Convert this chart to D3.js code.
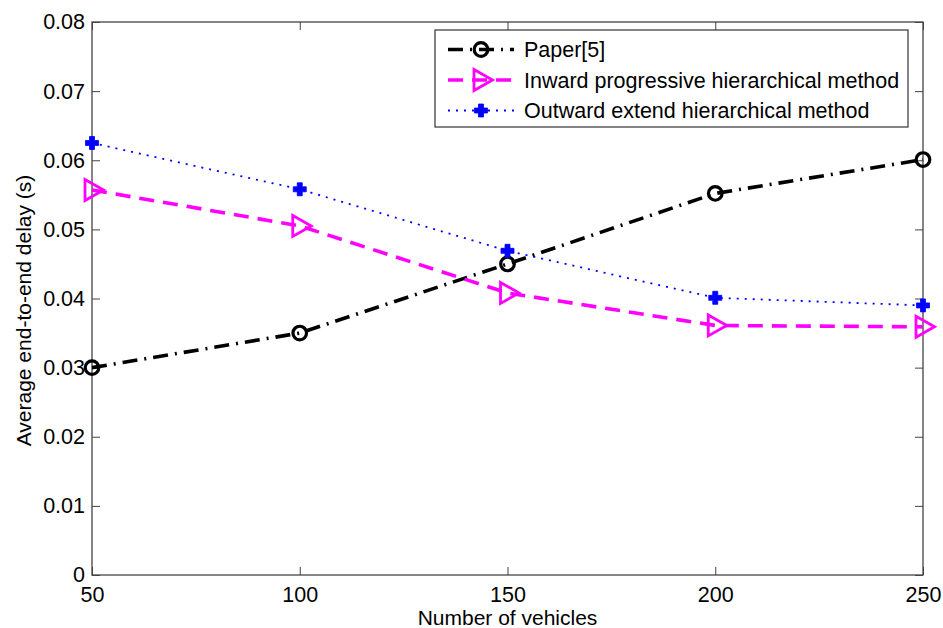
<!DOCTYPE html>
<html>
<head>
<meta charset="utf-8">
<script src="https://cdn.jsdelivr.net/npm/d3@7"></script>
<style>
  body { margin: 0; background: #fff; }
  text { font-family: "Liberation Sans", Arial, sans-serif; fill: #000; }
</style>
</head>
<body>
<svg id="chart" width="943" height="628"></svg>
<script>
const vehicles = [50, 100, 150, 200, 250];
const paper5 = [0.030, 0.035, 0.045, 0.0552, 0.0601];
const inward = [0.0557, 0.0505, 0.0408, 0.0361, 0.0359];
const outward = [0.0625, 0.0558, 0.0469, 0.0401, 0.0390];
const yTicks = [0, 0.01, 0.02, 0.03, 0.04, 0.05, 0.06, 0.07, 0.08];
const xTicks = [50, 100, 150, 200, 250];

const seriesList = [
  { name: 'Paper[5]', values: paper5, color: '#000', width: 3.6, dash: '15,7,2,7', marker: 'circle' },
  { name: 'Inward progressive hierarchical method', values: inward, color: '#ff00ff', width: 3.6, dash: '15,9', marker: 'triangle' },
  { name: 'Outward extend hierarchical method', values: outward, color: '#0000ff', width: 1.8, dash: '2,6', marker: 'plus' }
];

const svg = d3.select('#chart');
const plotL = 92, plotR = 923, plotT = 22, plotB = 575;
const fontFamily = '"Liberation Sans", Arial, sans-serif';
const tickFont = 21.5;

const x = d3.scaleLinear().domain([50, 250]).range([plotL, plotR]);
const y = d3.scaleLinear().domain([0, 0.08]).range([plotB, plotT]);

const axisColor = '#444';

// frame (box on)
svg.append('rect')
  .attr('x', plotL).attr('y', plotT)
  .attr('width', plotR - plotL).attr('height', plotB - plotT)
  .attr('fill', 'none').attr('stroke', axisColor).attr('stroke-width', 1.3);

// ticks point inward on all four sides
const tickLen = 8;
const fmtY = d => d === 0 ? '0' : d3.format('.2f')(d);

svg.append('g').attr('transform', `translate(${plotL},0)`)
  .call(d3.axisLeft(y).tickValues(yTicks).tickSize(-tickLen).tickPadding(7).tickFormat(fmtY))
  .call(g => g.select('.domain').remove())
  .call(g => g.selectAll('line').attr('stroke', axisColor))
  .call(g => g.selectAll('text').attr('font-size', tickFont).attr('font-family', fontFamily));

svg.append('g').attr('transform', `translate(${plotR},0)`)
  .call(d3.axisRight(y).tickValues(yTicks).tickSize(-tickLen).tickFormat(''))
  .call(g => g.select('.domain').remove())
  .call(g => g.selectAll('line').attr('stroke', axisColor));

svg.append('g').attr('transform', `translate(0,${plotB})`)
  .call(d3.axisBottom(x).tickValues(xTicks).tickSize(-tickLen).tickPadding(12).tickFormat(d3.format('d')))
  .call(g => g.select('.domain').remove())
  .call(g => g.selectAll('line').attr('stroke', axisColor))
  .call(g => g.selectAll('text').attr('font-size', tickFont).attr('font-family', fontFamily));

svg.append('g').attr('transform', `translate(0,${plotT})`)
  .call(d3.axisTop(x).tickValues(xTicks).tickSize(-tickLen).tickFormat(''))
  .call(g => g.select('.domain').remove())
  .call(g => g.selectAll('line').attr('stroke', axisColor));

// axis titles
svg.append('text')
  .attr('x', (plotL + plotR) / 2).attr('y', 625)
  .attr('text-anchor', 'middle').attr('font-size', 21)
  .text('Number of vehicles');

svg.append('text')
  .attr('transform', `translate(31,${(plotT + plotB) / 2 + 12}) rotate(-90)`)
  .attr('text-anchor', 'middle').attr('font-size', 21)
  .text('Average end-to-end delay (s)');

function drawMarker(g, kind, color, cx, cy) {
  if (kind === 'circle') {
    g.append('circle').attr('cx', cx).attr('cy', cy).attr('r', 6.8)
      .attr('fill', 'none').attr('stroke', color).attr('stroke-width', 3.2);
  } else if (kind === 'triangle') {
    g.append('path')
      .attr('d', `M${cx - 7},${cy - 10.5}L${cx + 11.5},${cy}L${cx - 7},${cy + 10.5}Z`)
      .attr('fill', 'none').attr('stroke', color).attr('stroke-width', 2.8);
  } else {
    const a = 6.5, b = 2.5;
    g.append('path')
      .attr('d', `M${cx - b},${cy - a}H${cx + b}V${cy - b}H${cx + a}V${cy + b}H${cx + b}V${cy + a}H${cx - b}V${cy + b}H${cx - a}V${cy - b}H${cx - b}Z`)
      .attr('fill', color).attr('stroke', color).attr('stroke-width', 0.8);
  }
}

const line = d3.line().x(d => x(d[0])).y(d => y(d[1]));

seriesList.forEach(s => {
  const pts = vehicles.map((v, i) => [v, s.values[i]]);
  const g = svg.append('g');
  g.append('path').datum(pts).attr('d', line)
    .attr('fill', 'none').attr('stroke', s.color)
    .attr('stroke-width', s.width).attr('stroke-dasharray', s.dash);
  pts.forEach(p => drawMarker(g, s.marker, s.color, x(p[0]), y(p[1])));
});

// legend
const lg = svg.append('g');
lg.append('rect').attr('x', 435).attr('y', 30).attr('width', 473).attr('height', 97)
  .attr('fill', '#fff').attr('stroke', '#333').attr('stroke-width', 1.2);

seriesList.forEach((s, i) => {
  const ly = 49.5 + i * 30.5;
  lg.append('line').attr('x1', 448).attr('x2', 514).attr('y1', ly).attr('y2', ly)
    .attr('stroke', s.color).attr('stroke-width', s.width).attr('stroke-dasharray', s.dash);
  drawMarker(lg, s.marker, s.color, 481, ly);
  lg.append('text').attr('x', 524).attr('y', ly + 7.5).attr('font-size', 21.5).text(s.name);
});
</script>
</body>
</html>
